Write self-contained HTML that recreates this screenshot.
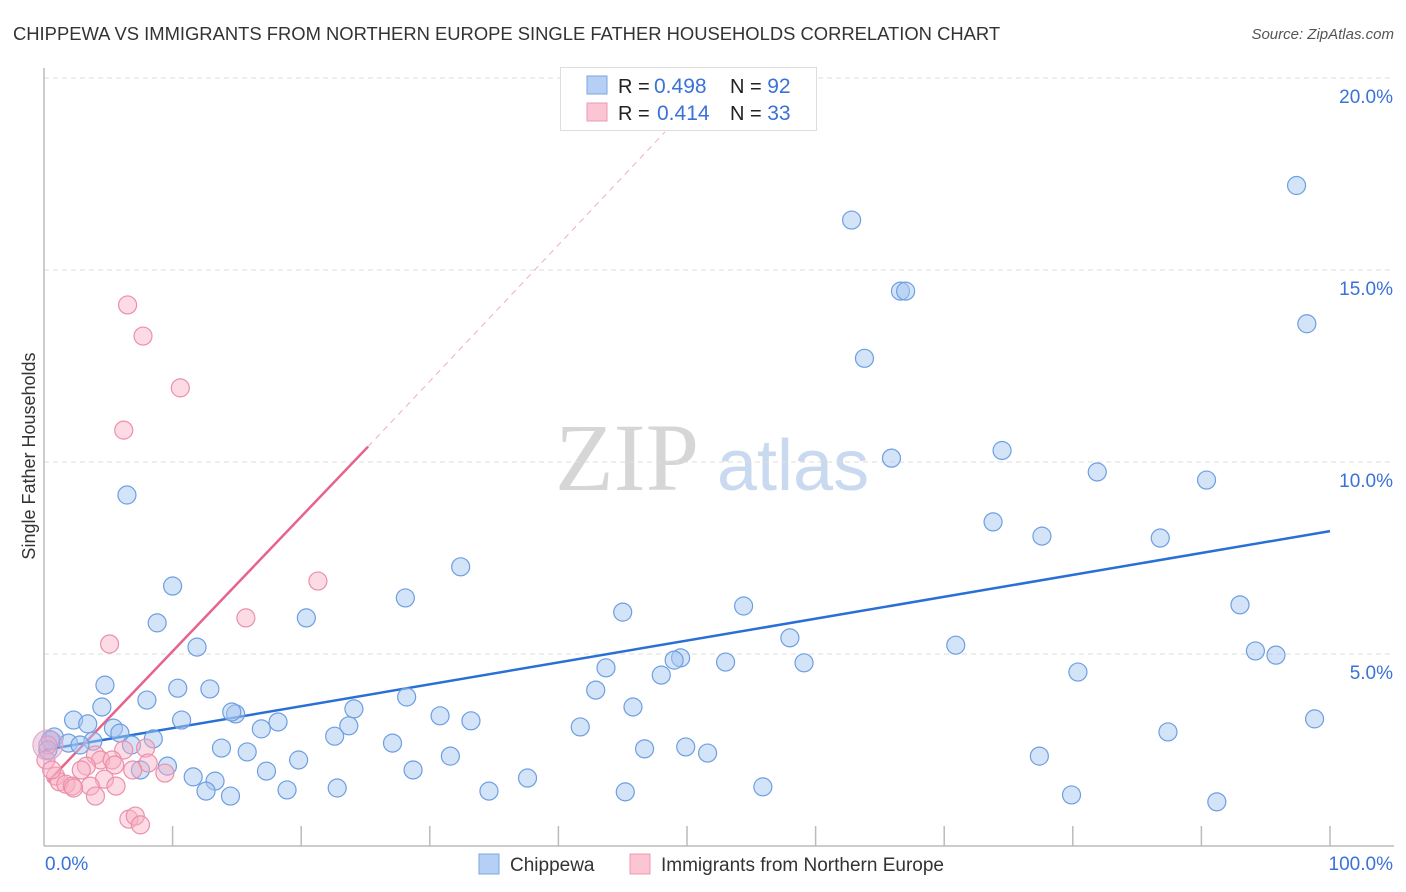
<!DOCTYPE html>
<html><head><meta charset="utf-8"><style>
body{margin:0;background:#fff;font-family:"Liberation Sans",sans-serif;}
#wrap{position:relative;width:1406px;height:892px;overflow:hidden;}
</style></head><body>
<div id="wrap">
<svg id="svg" width="1406" height="892" xmlns="http://www.w3.org/2000/svg" font-family="Liberation Sans, sans-serif">
<text x="13" y="40" font-size="18.4" fill="#333">CHIPPEWA VS IMMIGRANTS FROM NORTHERN EUROPE SINGLE FATHER HOUSEHOLDS CORRELATION CHART</text>
<text x="1394" y="39" font-size="15" fill="#555" font-style="italic" text-anchor="end">Source: ZipAtlas.com</text>
<text x="35" y="456" font-size="18" fill="#333" text-anchor="middle" transform="rotate(-90 35 456)">Single Father Households</text>
<g>
<text x="555" y="490" font-size="96" font-family="Liberation Serif, serif" fill="#d6d6d6">ZIP</text>
<text x="717" y="490" font-size="72" fill="#c9d9f0">atlas</text>
</g>
<g id="grid"></g><g id="axes"></g><g id="lines"></g><g id="pts"></g>
<g>
<rect x="560.5" y="67.5" width="256" height="63" fill="#fff" stroke="#ddd"/>
<rect x="587" y="76" width="20" height="18" fill="#b6d0f5" stroke="#7ba6e0"/>
<rect x="587" y="103" width="20" height="18" fill="#fbc6d4" stroke="#ee98b2"/>
<text x="618" y="93" font-size="20" fill="#222">R = <tspan x="654" fill="#3a72d8" font-size="21">0.498</tspan><tspan x="730">N = </tspan><tspan fill="#3a72d8" font-size="21">92</tspan></text>
<text x="618" y="120" font-size="20" fill="#222">R = <tspan x="657" fill="#3a72d8" font-size="21">0.414</tspan><tspan x="730">N = </tspan><tspan fill="#3a72d8" font-size="21">33</tspan></text>
</g>
<g>
<rect x="479" y="854" width="20" height="20" fill="#b6d0f5" stroke="#7ba6e0"/>
<text x="510" y="871" font-size="19" fill="#333">Chippewa</text>
<rect x="630" y="854" width="20" height="20" fill="#fbc6d4" stroke="#ee98b2"/>
<text x="661" y="871" font-size="19" fill="#333">Immigrants from Northern Europe</text>
</g>
</svg>
</div>
<script>
const yTicks=[5,10,15,20];
const yTickLabels=["5.0%","10.0%","15.0%","20.0%"];
const xTicks=[0,10,20,30,40,50,60,70,80,90,100];
const blueX=[62.8,97.4,66.6,67.0,98.2,63.8,65.9,74.5,81.9,90.4,6.45,73.8,77.6,86.8,32.4,10.0,28.1,45.0,54.4,93.0,20.4,8.8,11.9,58.0,70.9,94.2,95.8,43.7,49.5,49.0,53.0,59.1,48.0,80.4,4.74,10.4,12.9,42.9,8.0,28.2,4.5,45.8,24.1,14.9,14.6,30.8,2.3,10.7,33.2,98.8,3.4,18.2,5.4,23.7,41.7,5.9,16.9,22.6,87.4,0.8,8.5,3.8,1.9,2.8,27.1,6.8,13.8,46.7,49.9,15.8,51.6,31.6,77.4,19.8,9.6,7.5,17.3,28.7,11.6,37.6,13.3,18.9,22.8,12.6,34.6,14.5,45.2,55.9,79.9,91.2,0.5,0.3];
const blueY=[16.3,17.2,14.45,14.45,13.6,12.7,10.1,10.3,9.74,9.53,9.14,8.44,8.07,8.02,7.27,6.77,6.46,6.09,6.25,6.28,5.94,5.81,5.18,5.42,5.23,5.08,4.97,4.64,4.90,4.84,4.79,4.77,4.45,4.53,4.19,4.11,4.09,4.06,3.80,3.88,3.62,3.62,3.57,3.44,3.49,3.39,3.28,3.28,3.26,3.31,3.18,3.23,3.07,3.13,3.10,2.94,3.05,2.86,2.97,2.84,2.79,2.73,2.68,2.63,2.68,2.63,2.55,2.53,2.58,2.45,2.42,2.34,2.34,2.24,2.08,1.98,1.95,1.98,1.80,1.77,1.69,1.46,1.51,1.43,1.43,1.30,1.41,1.54,1.33,1.15,2.76,2.5];
const pinkX=[6.5,7.7,10.6,6.2,21.3,15.7,5.1,6.2,7.9,4.0,4.4,5.3,8.1,3.3,5.5,2.9,6.9,9.4,4.7,0.9,1.2,1.7,2.2,3.6,5.6,2.3,4.0,6.6,7.1,7.5,0.3,0.15,0.6];
const pinkY=[14.09,13.28,11.93,10.83,6.90,5.94,5.26,2.5,2.55,2.37,2.24,2.24,2.16,2.08,2.11,1.98,1.98,1.90,1.74,1.82,1.67,1.61,1.56,1.56,1.56,1.51,1.30,0.70,0.78,0.55,2.63,2.24,1.98];
const blueLine=[[0,2.5],[100,8.2]];
const pinkSolid=[[0.3,1.67],[25.2,10.4]];
const pinkDashed=[[25.2,10.4],[48.3,18.6]];

const NS="http://www.w3.org/2000/svg";
const X=v=>44+v*12.86, Y=v=>846-v*38.4;
function mk(tag,attrs,parent){const e=document.createElementNS(NS,tag);for(const k in attrs)e.setAttribute(k,attrs[k]);document.getElementById(parent).appendChild(e);return e;}
yTicks.forEach((t,i)=>{
  const g=mk('line',{x1:44,x2:1394,y1:Y(t),y2:Y(t),stroke:'#ddd','stroke-dasharray':'5,4'},'grid');
  
  
  const l=mk('text',{x:1393,y:Y(t)+25,'font-size':19,fill:'#3a72d8','text-anchor':'end'},'axes');
  l.textContent=yTickLabels[i];
  
  
});
const topGrid=mk('line',{x1:44,x2:1394,y1:78,y2:78,stroke:'#ddd','stroke-dasharray':'5,4'},'grid');


const ax=mk('line',{x1:44,x2:1394,y1:846,y2:846,stroke:'#bbb','stroke-width':1.5},'axes');


const ay=mk('line',{x1:44,x2:44,y1:68,y2:846,stroke:'#bbb','stroke-width':1.5},'axes');


xTicks.forEach(t=>{if(t===0)return;
  const e=mk('line',{x1:X(t),x2:X(t),y1:826,y2:846,stroke:'#bbb','stroke-width':1.5},'axes');
  
  
});
const x0=mk('text',{x:45,y:870,'font-size':19,fill:'#3a72d8'},'axes');x0.textContent='0.0%';


const x1=mk('text',{x:1393,y:870,'font-size':19,fill:'#3a72d8','text-anchor':'end'},'axes');x1.textContent='100.0%';



function pts(xs,ys,fill,stroke,name){xs.forEach((v,i)=>{
  const c=mk('circle',{cx:X(v),cy:Y(ys[i]),r:9,fill:fill,stroke:stroke,'stroke-width':1.2},'pts');
  
  
});}
pts(blueX,blueY,'rgba(168,200,242,0.5)','#6d9fe0','point-chippewa');
pts(pinkX,pinkY,'rgba(248,176,196,0.45)','#eb8fab','point-immigrants');
const big=mk('circle',{cx:X(pinkX[30]),cy:Y(pinkY[30]),r:15,fill:'rgba(210,170,210,0.45)',stroke:'#e6a0bd'},'pts');



const bl=mk('line',{x1:X(blueLine[0][0]),y1:Y(blueLine[0][1]),x2:X(blueLine[1][0]),y2:Y(blueLine[1][1]),stroke:'#2a6fd6','stroke-width':2.5},'lines');


const ps=mk('line',{x1:X(pinkSolid[0][0]),y1:Y(pinkSolid[0][1]),x2:X(pinkSolid[1][0]),y2:Y(pinkSolid[1][1]),stroke:'#e8638c','stroke-width':2.5},'lines');


const pd=mk('line',{x1:X(pinkDashed[0][0]),y1:Y(pinkDashed[0][1]),x2:X(pinkDashed[1][0]),y2:Y(pinkDashed[1][1]),stroke:'#f0b0c4','stroke-width':1,'stroke-dasharray':'6,5'},'lines');


</script>
</body></html>
